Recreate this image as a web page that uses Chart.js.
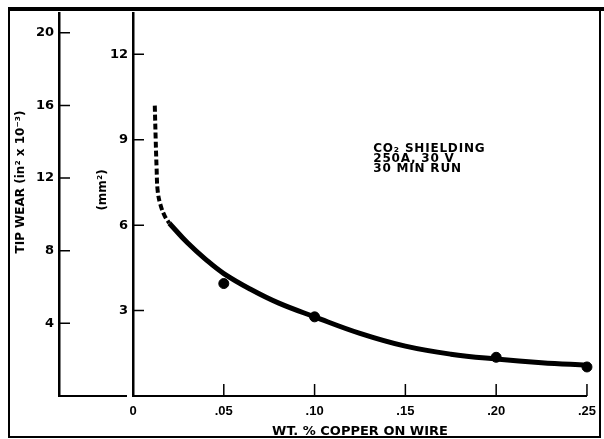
<!DOCTYPE html>
<html>
<head>
<meta charset="utf-8">
<script src="https://cdn.jsdelivr.net/npm/chart.js@4"></script>
<style>
  body { margin: 0; background: #fff; }
  canvas { display: block; }
</style>
</head>
<body>
<canvas id="myChart" width="604" height="439"></canvas>
<script>
// dashed (extrapolated) part of the fitted curve, mm^2
const dashX = [0.0120, 0.0125, 0.0130, 0.0136, 0.0152, 0.0175, 0.0200];
const dashY = [10.2, 9.0, 8.0, 7.2, 6.7, 6.32, 6.07];

// solid part of the fitted curve, mm^2
const solidX = [0.020, 0.030, 0.040, 0.050, 0.065, 0.080, 0.100, 0.125, 0.150, 0.175, 0.200, 0.225, 0.250];
const solidY = [6.07, 5.38, 4.80, 4.30, 3.74, 3.27, 2.78, 2.20, 1.75, 1.47, 1.30, 1.17, 1.08];

// measured points
const pointX = [0.05, 0.10, 0.20, 0.25];
const pointY = [3.95, 2.78, 1.36, 1.02];

const xTicks = [0, 0.05, 0.10, 0.15, 0.20, 0.25];
const mmTicks = [3, 6, 9, 12];
const inTicks = [4, 8, 12, 16, 20];
const noteLines = ["CO\u2082 SHIELDING", "250A, 30 V", "30 MIN RUN"];

const toXY = (xs, ys) => xs.map((x, i) => ({ x: x, y: ys[i] }));

const wideFont = "'DejaVu Sans', Verdana, sans-serif";
Chart.defaults.font.family = "'Liberation Sans', Arial, sans-serif";
Chart.defaults.color = "#000";

const extras = {
  id: "extras",
  afterDraw(chart) {
    const ctx = chart.ctx;
    const { x, y, y2 } = chart.scales;
    ctx.save();
    ctx.strokeStyle = "#000";
    ctx.fillStyle = "#000";

    // inward tick marks
    ctx.lineWidth = 1.5;
    ctx.beginPath();
    mmTicks.forEach((v) => {
      const py = y.getPixelForValue(v);
      ctx.moveTo(y.right, py);
      ctx.lineTo(y.right + 11, py);
    });
    inTicks.forEach((v) => {
      const py = y2.getPixelForValue(v);
      ctx.moveTo(y2.right, py);
      ctx.lineTo(y2.right + 11, py);
    });
    xTicks.slice(1).forEach((v) => {
      const px = x.getPixelForValue(v);
      ctx.moveTo(px, x.top);
      ctx.lineTo(px, x.top - 12);
    });
    ctx.stroke();

    // bottom of the in^2 axis
    ctx.lineWidth = 2;
    ctx.beginPath();
    const by = y2.getPixelForValue(0);
    ctx.moveTo(y2.right, by);
    ctx.lineTo(y.right - 6, by);
    ctx.stroke();

    // outer frame
    ctx.lineWidth = 2;
    ctx.strokeRect(9, 10, 591, 427);
    ctx.lineWidth = 4;
    ctx.beginPath();
    ctx.moveTo(8, 9);
    ctx.lineTo(604, 9);
    ctx.stroke();

    // axis titles
    ctx.font = "bold 12px " + wideFont;
    ctx.textAlign = "center";
    ctx.textBaseline = "middle";
    ctx.save();
    ctx.translate(21, 182);
    ctx.rotate(-Math.PI / 2);
    ctx.fillText("TIP WEAR (in\u00B2 x 10\u207B\u00B3)", 0, 0);
    ctx.restore();
    ctx.save();
    ctx.translate(103, 190);
    ctx.rotate(-Math.PI / 2);
    ctx.fillText("(mm\u00B2)", 0, 0);
    ctx.restore();

    // note
    ctx.textAlign = "left";
    ctx.textBaseline = "alphabetic";
    ctx.font = "bold 12px " + wideFont;
    ctx.letterSpacing = "0.8px";
    const nx = x.getPixelForValue(0.1323);
    noteLines.forEach((t, i) => {
      ctx.fillText(t, nx, 152 + i * 10);
    });
    ctx.restore();
  },
};

const ctx = document.getElementById("myChart").getContext("2d");
const chart = new Chart(ctx, {
  type: "scatter",
  data: {
    datasets: [
      {
        data: toXY(dashX, dashY),
        showLine: true,
        borderColor: "#000",
        borderWidth: 4,
        borderDash: [6, 3],
        pointRadius: 0,
        tension: 0.4,
      },
      {
        data: toXY(solidX, solidY),
        showLine: true,
        borderColor: "#000",
        borderWidth: 5,
        pointRadius: 0,
        tension: 0.4,
      },
      {
        data: toXY(pointX, pointY),
        showLine: false,
        backgroundColor: "#000",
        borderColor: "#000",
        pointRadius: 5,
        clip: false,
      },
    ],
  },
  options: {
    responsive: false,
    animation: false,
    devicePixelRatio: 1,
    layout: { padding: { top: 10, left: 0, right: 12, bottom: 0 } },
    plugins: { legend: { display: false }, tooltip: { enabled: false } },
    scales: {
      x: {
        type: "linear",
        min: 0,
        max: 0.25,
        afterBuildTicks: (s) => { s.ticks = xTicks.map((v) => ({ value: v })); },
        afterFit: (s) => { s.height = 43; },
        grid: { display: false, drawTicks: false },
        border: { display: true, color: "#000", width: 2 },
        ticks: {
          padding: 8,
          font: { size: 13, weight: "bold" },
          callback: (v) => (v === 0 ? "0" : v.toFixed(2).slice(1)),
        },
        title: {
          display: true,
          text: "WT. % COPPER ON WIRE",
          font: { family: wideFont, size: 13, weight: "bold" },
          padding: { top: 0, bottom: 0 },
        },
      },
      y: {
        position: "left",
        weight: 0,
        min: 0,
        max: 13.46,
        afterBuildTicks: (s) => { s.ticks = mmTicks.map((v) => ({ value: v })); },
        afterFit: (s) => { s.width = 74; },
        grid: { display: false, drawTicks: false },
        border: { display: true, color: "#000", width: 2.5 },
        ticks: { padding: 5, font: { family: wideFont, size: 13, weight: "bold" } },
      },
      y2: {
        position: "left",
        weight: 1,
        min: 0,
        max: 21.1,
        afterBuildTicks: (s) => { s.ticks = inTicks.map((v) => ({ value: v })); },
        afterFit: (s) => { s.width = 59; },
        grid: { display: false, drawTicks: false },
        border: { display: true, color: "#000", width: 2.5 },
        ticks: { padding: 5, font: { family: wideFont, size: 13, weight: "bold" } },
      },
    },
  },
  plugins: [extras],
});
</script>
</body>
</html>
